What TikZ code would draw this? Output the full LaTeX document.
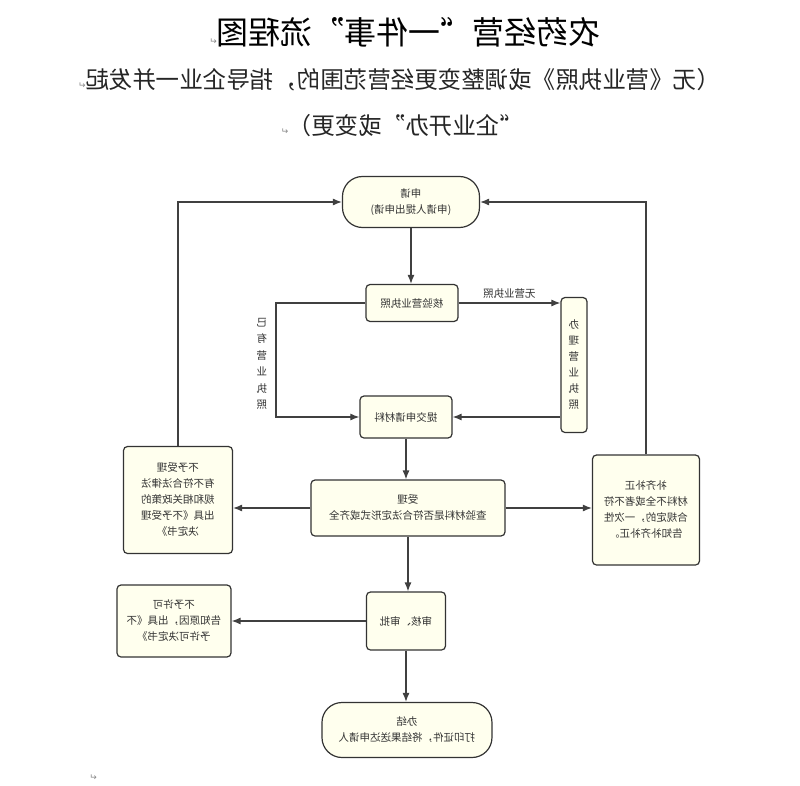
\documentclass[tikz,border=0pt]{standalone}
\usepackage{fontspec}
\setmainfont{Noto Sans CJK SC}
\newfontfamily\markfont{DejaVu Sans}
\usetikzlibrary{arrows.meta, positioning, calc}

\definecolor{boxfill}{HTML}{FFFFEE}
\definecolor{boxline}{HTML}{333333}
\definecolor{linegray}{HTML}{404040}
\definecolor{textgray}{HTML}{333333}
\definecolor{markgray}{HTML}{888888}
\newcommand{\parmark}{{\markfont\fontsize{9}{9}\selectfont\textcolor{markgray}{↵}}}

\begin{document}
\begin{tikzpicture}[x=1pt, y=-1pt, xscale=-1,
    every node/.append style={transform shape},
    box/.style={draw=boxline, fill=boxfill, line width=1.2pt, rounded corners=4pt,
        inner sep=0pt, align=center, text=textgray, font=\fontsize{10.5}{16}\selectfont},
    ends/.style={box, rounded corners=20pt},
    link/.style={draw=linegray, line width=1.2pt, -{Latex[length=9pt,width=7pt]}},
    tag/.style={inner sep=0pt, align=center, text=textgray, font=\fontsize{10.5}{16.5}\selectfont},
    heading/.style={inner sep=0pt, font=\fontsize{32}{36}\selectfont},
    subheading/.style={inner sep=0pt, text=black!85, font=\fontsize{23.5}{28}\selectfont}]
    \fill[white] (0,0) rectangle (800,786);
    \useasboundingbox (0,0) rectangle (800,786);

    \node[heading] (title) at (395,32) {农药经营“一件事”流程图\parmark};
    \node[subheading] (sub1) at (401,80) {（无《营业执照》或调整变更经营范围的，指导企业一并发起\parmark};
    \node[subheading] (sub2) at (398,126) {“企业开办”或变更）\parmark};

    \node[ends, minimum width=137pt, minimum height=51pt] (apply) at (389,202) {申请\\(申请人提出申请)};
    \node[box, minimum width=92pt, minimum height=37pt] (check) at (388,303) {核验营业执照};
    \node[box, minimum width=26pt, minimum height=135pt] (license) at (226,365) {办\\理\\营\\业\\执\\照};
    \node[box, minimum width=92pt, minimum height=42pt] (submit) at (394,417) {提交申请材料};
    \node[box, minimum width=194pt, minimum height=56pt] (accept) at (392,508) {受理\\查验材料是否符合法定形式或齐全};
    \node[box, minimum width=109pt, minimum height=107pt] (reject) at (622,500) {不予受理\\有不符合法律法\\规和相关政策的\\出具《不予受理\\决定书》};
    \node[box, minimum width=107pt, minimum height=110pt] (supply) at (154,510) {补齐补正\\材料不全或者不符\\合规定的，一次性\\告知补齐补正。};
    \node[box, minimum width=79pt, minimum height=58pt] (review) at (394,621) {审核、审批};
    \node[box, minimum width=114pt, minimum height=72pt] (deny) at (626,621) {不予许可\\告知原因，出具《不\\予许可决定书》};
    \node[ends, minimum width=170pt, minimum height=55pt] (done) at (393,730) {办结\\打印证件，将结果送达申请人};

    \node[tag] (haslabel) at (538,364) {已\\有\\营\\业\\执\\照};
    \coordinate (hasbend) at (524,303);

    \draw[link] (apply.south) -- (apply.south |- check.north);
    \draw[link] (check.west) -- (check.west -| license.east) node[tag, midway, above=4pt] (nolabel) {无营业执照};
    \draw[link] (check.east) -- (hasbend) |- (submit.east);
    \draw[link] (license.east |- submit.west) -- (submit.west);
    \draw[link] (submit.south) -- (submit.south |- accept.north);
    \draw[link] (accept.east) -- (accept.east -| reject.west);
    \draw[link] (accept.west) -- (accept.west -| supply.east);
    \draw[link] (reject.north) |- (apply.east);
    \draw[link] (supply.north) |- (apply.west);
    \draw[link] (accept.south) -- (accept.south |- review.north);
    \draw[link] (review.east) -- (review.east -| deny.west);
    \draw[link] (review.south) -- (review.south |- done.north);

    \node[inner sep=0pt] (endmark) at (707,778) {\parmark};
\end{tikzpicture}
\end{document}
